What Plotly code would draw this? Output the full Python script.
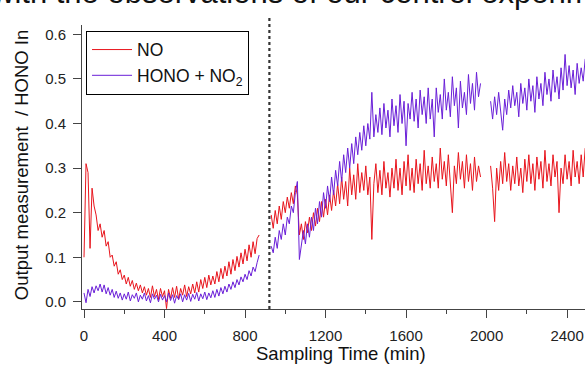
import plotly.graph_objects as go

# ---- data ----
step = 10  # sampling step, min
seg_starts = [0, 930, 2020]

no_a = [0.100, 0.310, 0.290, 0.120, 0.255, 0.215, 0.195, 0.160, 0.175, 0.145,
        0.160, 0.125, 0.135, 0.100, 0.105, 0.080, 0.090, 0.062, 0.072, 0.050,
        0.060, 0.040, 0.055, 0.035, 0.048, 0.028, 0.042, 0.025, 0.038, 0.020,
        0.034, 0.015, 0.030, 0.010, 0.036, 0.012, 0.028, 0.005, 0.030, 0.012,
        0.025, -0.015, 0.028, 0.008, 0.032, 0.010, 0.035, 0.006, 0.030, 0.015,
        0.038, 0.012, 0.034, 0.018, 0.040, 0.020, 0.045, 0.022, 0.050, 0.030,
        0.055, 0.032, 0.060, 0.038, 0.058, 0.040, 0.068, 0.045, 0.075, 0.052,
        0.080, 0.058, 0.090, 0.062, 0.095, 0.070, 0.102, 0.078, 0.110, 0.085,
        0.118, 0.092, 0.128, 0.100, 0.135, 0.108, 0.142, 0.150]
hono_a = [0.020, -0.002, 0.028, 0.012, 0.034, 0.020, 0.036, 0.025, 0.040, 0.022,
          0.038, 0.018, 0.032, 0.015, 0.028, 0.010, 0.024, 0.008, 0.020, 0.004,
          0.018, 0.006, 0.022, 0.002, 0.016, 0.008, 0.020, 0.000, 0.015, 0.006,
          0.020, 0.002, 0.014, -0.002, 0.018, 0.006, 0.015, 0.000, 0.017, 0.004,
          0.014, 0.000, 0.020, 0.003, 0.016, -0.003, 0.014, 0.005, 0.018, 0.000,
          0.016, 0.004, 0.019, 0.001, 0.017, 0.006, 0.021, 0.002, 0.018, 0.007,
          0.022, 0.005, 0.020, 0.009, 0.025, 0.010, 0.028, 0.013, 0.032, 0.018,
          0.035, 0.022, 0.040, 0.028, 0.045, 0.032, 0.050, 0.038, 0.056, 0.045,
          0.062, 0.050, 0.070, 0.058, 0.078, 0.068, 0.088, 0.105]

no_b = [0.195, 0.165, 0.205, 0.175, 0.215, 0.185, 0.225, 0.200, 0.235, 0.210,
        0.245, 0.220, 0.260, 0.240, 0.150, 0.175, 0.140, 0.180, 0.155, 0.190,
        0.160, 0.200, 0.170, 0.210, 0.180, 0.225, 0.190, 0.230, 0.195, 0.240,
        0.205, 0.250, 0.215, 0.265, 0.220, 0.280, 0.230, 0.270, 0.215, 0.300,
        0.240, 0.285, 0.230, 0.310, 0.245, 0.290, 0.250, 0.305, 0.240, 0.280,
        0.140, 0.265, 0.310, 0.245, 0.295, 0.240, 0.315, 0.255, 0.290, 0.235,
        0.300, 0.255, 0.320, 0.250, 0.300, 0.240, 0.315, 0.260, 0.330, 0.250,
        0.300, 0.245, 0.320, 0.265, 0.310, 0.250, 0.340, 0.265, 0.305, 0.255,
        0.325, 0.270, 0.310, 0.255, 0.345, 0.275, 0.315, 0.260, 0.330, 0.275,
        0.200, 0.305, 0.265, 0.335, 0.275, 0.315, 0.255, 0.330, 0.270, 0.310,
        0.250, 0.325, 0.270, 0.305, 0.280]
hono_b = [0.125, 0.110, 0.145, 0.120, 0.160, 0.140, 0.175, 0.150, 0.190, 0.175,
          0.215, 0.200, 0.245, 0.270, 0.095, 0.125, 0.160, 0.130, 0.175, 0.145,
          0.190, 0.160, 0.210, 0.175, 0.225, 0.190, 0.245, 0.210, 0.260, 0.225,
          0.280, 0.240, 0.295, 0.260, 0.315, 0.270, 0.330, 0.290, 0.345, 0.300,
          0.355, 0.310, 0.370, 0.330, 0.380, 0.340, 0.395, 0.350, 0.400, 0.365,
          0.470, 0.370, 0.420, 0.380, 0.435, 0.375, 0.445, 0.390, 0.430, 0.370,
          0.455, 0.395, 0.440, 0.380, 0.465, 0.400, 0.450, 0.350, 0.445, 0.410,
          0.470, 0.405, 0.455, 0.390, 0.475, 0.420, 0.460, 0.400, 0.480, 0.410,
          0.455, 0.370, 0.480, 0.425, 0.465, 0.410, 0.500, 0.430, 0.470, 0.415,
          0.505, 0.440, 0.480, 0.390, 0.495, 0.435, 0.470, 0.420, 0.510, 0.445,
          0.490, 0.430, 0.515, 0.460, 0.490]

no_c = [0.305, 0.255, 0.180, 0.300, 0.250, 0.315, 0.265, 0.335, 0.270, 0.310,
        0.250, 0.305, 0.265, 0.325, 0.260, 0.300, 0.245, 0.320, 0.270, 0.330,
        0.265, 0.310, 0.250, 0.325, 0.275, 0.315, 0.255, 0.340, 0.270, 0.310,
        0.260, 0.330, 0.280, 0.315, 0.200, 0.300, 0.265, 0.330, 0.275, 0.315,
        0.260, 0.340, 0.280, 0.315, 0.265, 0.330, 0.280, 0.345]
hono_c = [0.450, 0.410, 0.460, 0.420, 0.470, 0.430, 0.385, 0.455, 0.420, 0.475,
          0.435, 0.485, 0.440, 0.470, 0.415, 0.490, 0.445, 0.480, 0.430, 0.500,
          0.450, 0.485, 0.425, 0.505, 0.455, 0.490, 0.440, 0.515, 0.465, 0.500,
          0.450, 0.520, 0.470, 0.505, 0.455, 0.525, 0.475, 0.555, 0.485, 0.530,
          0.480, 0.520, 0.465, 0.535, 0.490, 0.525, 0.495, 0.545]

x_ticks = [0, 400, 800, 1200, 1600, 2000, 2400]
y_ticks = [0.0, 0.1, 0.2, 0.3, 0.4, 0.5, 0.6]
marker_time = 921  # dashed vertical line


def build(segments):
    xs, ys = [], []
    for start, vals in zip(seg_starts, segments):
        if xs:
            xs.append(None)
            ys.append(None)
        xs += [start + step * i for i in range(len(vals))]
        ys += vals
    return xs, ys


x_no, y_no = build([no_a, no_b, no_c])
x_ho, y_ho = build([hono_a, hono_b, hono_c])

RED = "#e8141c"
PURPLE = "#6a1fd8"
FONT = "Arial, Liberation Sans, sans-serif"

fig = go.Figure()
fig.add_trace(go.Scatter(x=x_no, y=y_no, mode="lines", name="NO",
                         line=dict(color=RED, width=1), connectgaps=False))
fig.add_trace(go.Scatter(x=x_ho, y=y_ho, mode="lines", name="HONO + NO<sub>2</sub>",
                         line=dict(color=PURPLE, width=1), connectgaps=False))

fig.add_shape(type="line", xref="x", yref="paper", x0=marker_time, x1=marker_time, y0=0, y1=1.035,
              line=dict(color="#333333", width=2.2, dash="3px,3px"))

fig.update_layout(
    width=585, height=365,
    margin=dict(l=82, r=0, t=25, b=56),
    paper_bgcolor="white", plot_bgcolor="white",
    font=dict(family=FONT, size=15, color="#222"),
    showlegend=True,
    legend=dict(x=0.008, y=0.98, xanchor="left", yanchor="top",
                bordercolor="black", borderwidth=1, bgcolor="white", itemwidth=40,
                font=dict(size=17.5, color="#111")),
    xaxis=dict(range=[-10, 2489], tickvals=x_ticks, ticks="outside", ticklen=8, tickwidth=1,
               tickcolor="#444", showline=True, linecolor="#444", linewidth=1, showgrid=False,
               zeroline=False, tickfont=dict(size=15), ticklabelstandoff=5,
               minor=dict(dtick=200, tick0=0, ticks="outside", ticklen=4, tickcolor="#444", showgrid=False)),
    yaxis=dict(range=[-0.016, 0.621], tickvals=y_ticks, tickformat=".1f", ticks="outside", ticklen=8,
               tickwidth=1, tickcolor="#444", showline=True, linecolor="#444", linewidth=1,
               showgrid=False, zeroline=False, tickfont=dict(size=15), ticklabelstandoff=4),
    annotations=[
        dict(text="Output measurement  / HONO In", xref="paper", yref="paper",
             x=-0.121, y=0.507, textangle=-90, showarrow=False, font=dict(size=18.5, color="#111"),
             xanchor="center", yanchor="middle"),
        dict(text="Sampling Time (min)", xref="paper", yref="paper",
             x=0.515, y=-0.155, showarrow=False, font=dict(size=18.5, color="#111"),
             xanchor="center", yanchor="middle"),
        dict(text="with the observations of our control experiments", xref="paper", yref="paper",
             x=-0.185, y=1.046, xanchor="left", yanchor="bottom", showarrow=False,
             font=dict(size=31, color="#111")),
    ],
)

fig.write_html("out.html")
